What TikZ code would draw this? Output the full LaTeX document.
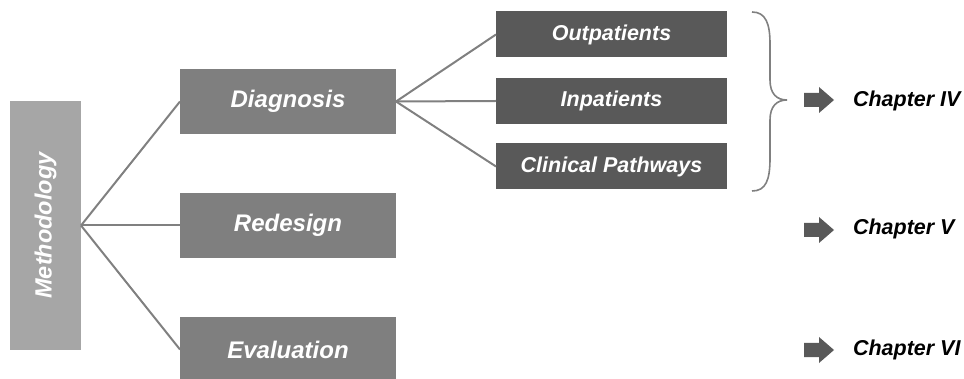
\documentclass[tikz,border=0pt]{standalone}
\usepackage{fontspec}
\setmainfont{Liberation Sans}
\begin{document}
\begin{tikzpicture}[x=1pt,y=-1pt,
  every node/.style={inner sep=0pt, outer sep=0pt, font=\bfseries\itshape},
  rootbox/.style={fill=rootgray, text=white, minimum width=71pt, minimum height=249pt},
  phasebox/.style={fill=phasegray, text=white, minimum width=216pt, minimum height=65pt, font=\fontsize{24}{28}\selectfont\bfseries\itshape},
  subbox/.style={fill=subgray, text=white, minimum width=231pt, minimum height=46pt, font=\fontsize{21.5}{25}\selectfont\bfseries\itshape},
  chapter/.style={anchor=west, text=black, font=\fontsize{21.5}{25}\selectfont\bfseries\itshape},
  link/.style={draw=linegray, line width=2pt},
  blockarrow/.style={fill=subgray}]
\definecolor{rootgray}{HTML}{A6A6A6}
\definecolor{phasegray}{HTML}{7F7F7F}
\definecolor{subgray}{HTML}{595959}
\definecolor{linegray}{HTML}{808080}
\useasboundingbox (0,0) rectangle (964,379);

% root of the tree
\node[rootbox] (meth) at (45.5,225.5) {};
\node[rotate=90, text=white, font=\fontsize{23.5}{27}\selectfont\bfseries\itshape] (methlabel) at (meth.center) {Methodology};

% phases
\node[phasebox] (diag) at (288,101.5) {Diagnosis};
\node[phasebox] (redes) at (288,225.5) {Redesign};
\node[phasebox] (eval) at (288,349.5) {Evaluation};

% diagnosis sub-studies
\node[subbox] (outp) at (611.5,34.5) {Outpatients};
\node[subbox] (inp) at (611.5,101) {Inpatients};
\node[subbox] (clin) at (611.5,166.5) {Clinical Pathways};

% connectors
\draw[link] (meth.east) -- (diag.west);
\draw[link] (meth.east) -- (redes.west);
\draw[link] (meth.east) -- (eval.west);
\draw[link] (diag.east) -- (outp.west);
\draw[link] (diag.east) -- (inp.west);
\draw[link] (diag.east) -- (clin.west);

% brace grouping the diagnosis studies
\draw[draw=linegray, line width=1.6pt]
  (752,12) .. controls (766,12) and (770,24) .. (770,44) -- (770,80)
  .. controls (770,94) and (777,100) .. (787,100)
  .. controls (777,100) and (770,106) .. (770,120) -- (770,158)
  .. controls (770,180) and (766,191) .. (752,191);

% block arrows and chapter labels
\foreach \yy in {100,230,350}{
  \fill[blockarrow] (804,\yy-7) -- (819,\yy-7) -- (819,\yy-13) -- (834,\yy)
    -- (819,\yy+13) -- (819,\yy+7) -- (804,\yy+7) -- cycle;
}
\node[chapter] (ch4) at (853,101) {Chapter IV};
\node[chapter] (ch5) at (853,229) {Chapter V};
\node[chapter] (ch6) at (853,350) {Chapter VI};
\end{tikzpicture}
\end{document}
